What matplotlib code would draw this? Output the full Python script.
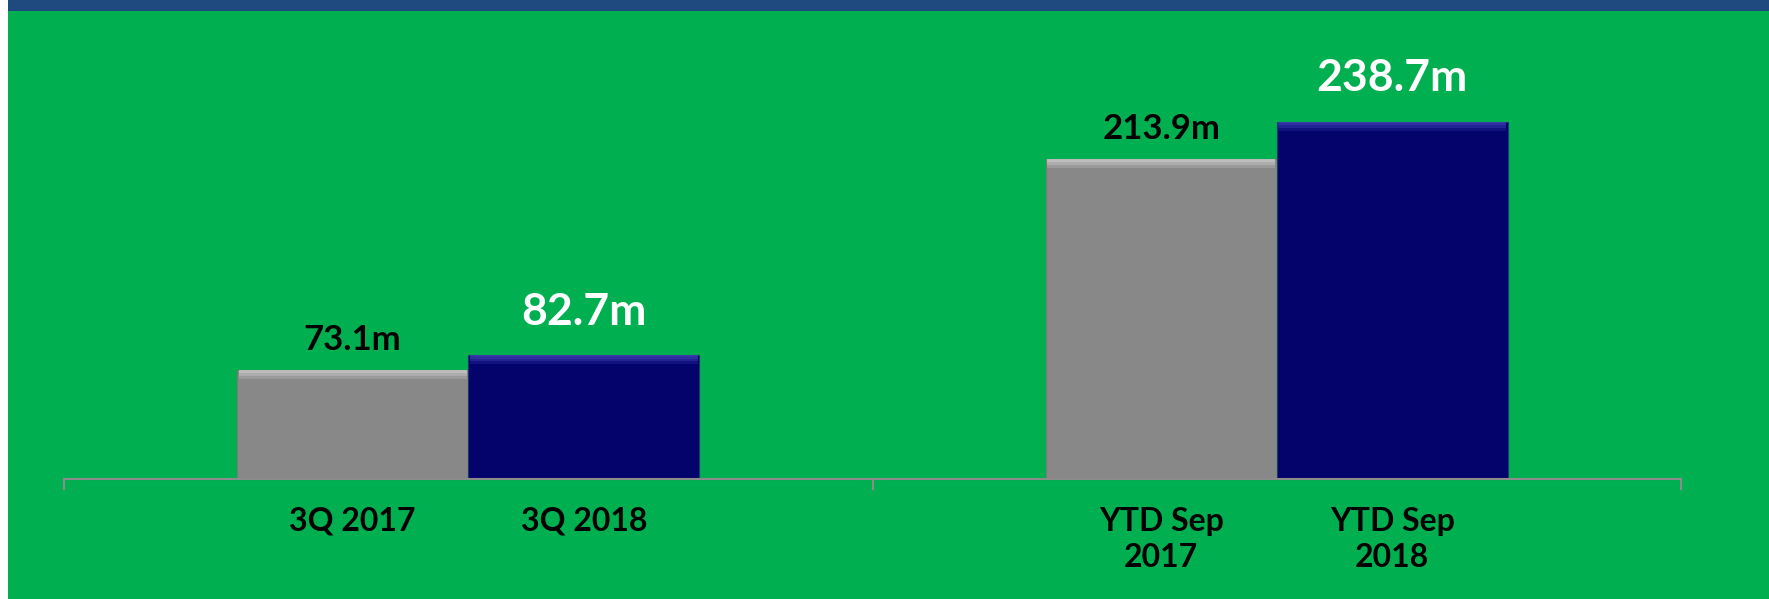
import matplotlib
matplotlib.use("Agg")
import matplotlib.pyplot as plt
from matplotlib.patches import Rectangle

# ---------------------------------------------------------
# data
# ---------------------------------------------------------
GROUPS = ["3Q", "YTD"]
PRIOR_LABELS = ["3Q 2017", "YTD Sep\n2017"]
CURRENT_LABELS = ["3Q 2018", "YTD Sep\n2018"]
PRIOR_VALUES = [73.1, 213.9]
CURRENT_VALUES = [82.7, 238.7]

# ---------------------------------------------------------
# style
# ---------------------------------------------------------
W, H, DPI = 1769, 599, 100
BG_GREEN = "#00af50"
TOP_BLUE = "#1f4a7f"
GRAY = "#888888"
GRAY_HI = "#d2d2d2"
NAVY = "#03036b"
NAVY_HI = "#4040b8"
AXIS_GRAY = "#8c8c8c"
FONT = ["Lato", "DejaVu Sans"]

BAR_W = 0.286
YMAX = 306.9


def main():
    fig = plt.figure(figsize=(W / DPI, H / DPI), dpi=DPI, facecolor=BG_GREEN)

    # frame decorations: white strip at left, blue band at top
    fig.patches.append(Rectangle((0, 0), 8 / W, 1, transform=fig.transFigure,
                                 facecolor="white", edgecolor="none", zorder=0))
    fig.patches.append(Rectangle((8 / W, 1 - 11 / H), 1, 11 / H, transform=fig.transFigure,
                                 facecolor=TOP_BLUE, edgecolor="none", zorder=0))

    ax = fig.add_axes([64 / W, 120 / H, 1617 / W, 459 / H])
    ax.set_facecolor("none")
    ax.set_xlim(0, len(GROUPS))
    ax.set_ylim(0, YMAX)

    centers = [i + 0.5 for i in range(len(GROUPS))]
    x_prior = [c - BAR_W / 2 for c in centers]
    x_cur = [c + BAR_W / 2 for c in centers]

    ax.bar(x_prior, PRIOR_VALUES, width=BAR_W, color=GRAY,
           edgecolor="#7a7a7a", linewidth=0.8, zorder=2)
    ax.bar(x_cur, CURRENT_VALUES, width=BAR_W, color=NAVY,
           edgecolor="#1a3a6a", linewidth=0.8, zorder=2)

    # soft bevel highlight on top of each bar (fading strips)
    steps = [(0.020, 0.25), (0.013, 0.35), (0.007, 0.45)]
    for h, a in steps:
        bevel = YMAX * h
        ax.bar(x_prior, [bevel] * len(PRIOR_VALUES), bottom=[v - bevel for v in PRIOR_VALUES],
               width=BAR_W * 0.985, color=GRAY_HI, edgecolor="none", alpha=a, zorder=3)
        ax.bar(x_cur, [bevel] * len(CURRENT_VALUES), bottom=[v - bevel for v in CURRENT_VALUES],
               width=BAR_W * 0.985, color=NAVY_HI, edgecolor="none", alpha=a, zorder=3)

    # value labels
    for x, v in zip(x_prior, PRIOR_VALUES):
        ax.annotate(f"{v:.1f}m", (x, v), xytext=(0, 10), textcoords="offset points",
                    ha="center", va="bottom", fontsize=25, fontweight="bold",
                    color="black", family=FONT, zorder=4)
    for x, v in zip(x_cur, CURRENT_VALUES):
        ax.annotate(f"{v:.1f}m", (x, v), xytext=(0, 17), textcoords="offset points",
                    ha="center", va="bottom", fontsize=32, fontweight="bold",
                    color="white", family=FONT, zorder=4)

    # axis
    for s in ["top", "right", "left"]:
        ax.spines[s].set_visible(False)
    ax.spines["bottom"].set_color(AXIS_GRAY)
    ax.spines["bottom"].set_linewidth(1.5)
    ax.spines["bottom"].set_zorder(5)
    ax.set_yticks([])
    ax.set_xticks(range(len(GROUPS) + 1))
    ax.set_xticklabels([])
    ax.tick_params(axis="x", direction="out", length=8, width=1.5, color=AXIS_GRAY)

    # category labels under each bar
    tr = ax.get_xaxis_transform()
    for x, lab in list(zip(x_prior, PRIOR_LABELS)) + list(zip(x_cur, CURRENT_LABELS)):
        ax.text(x, -0.060, lab, transform=tr, ha="center", va="top",
                fontsize=23, fontweight="bold", color="black", family=FONT,
                linespacing=1.3)

    fig.savefig("out.png", dpi=DPI, facecolor=BG_GREEN)
    plt.close(fig)


if __name__ == "__main__":
    main()
